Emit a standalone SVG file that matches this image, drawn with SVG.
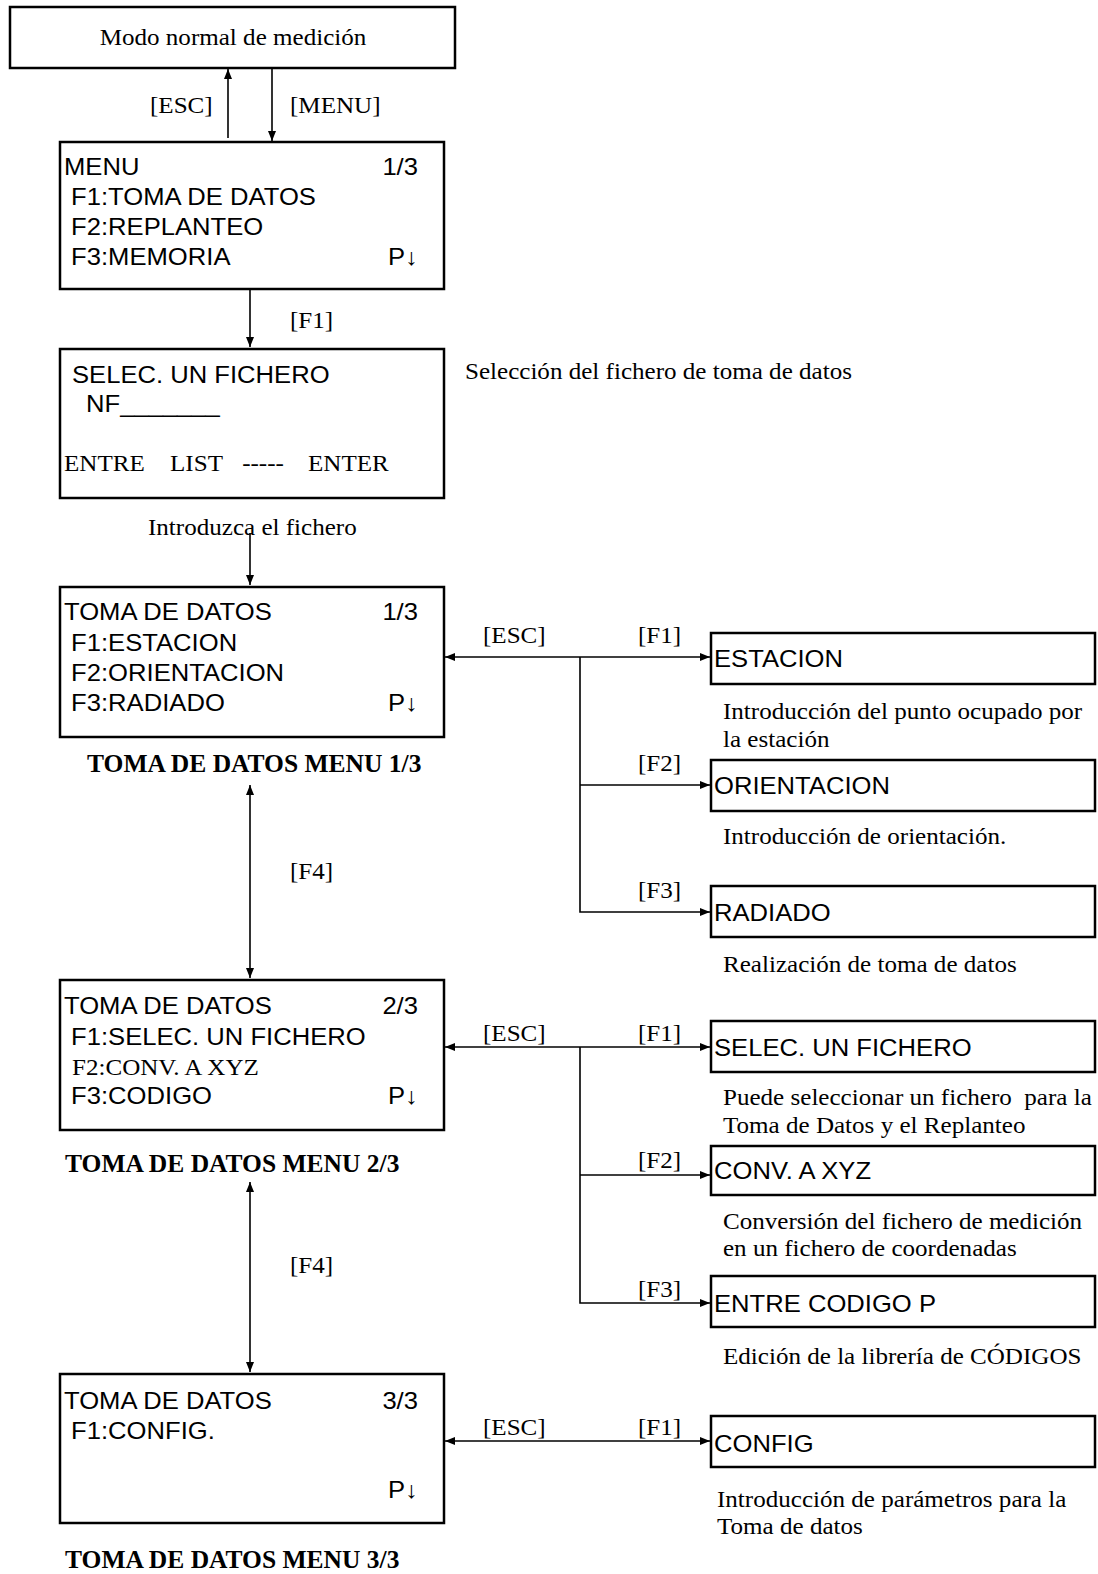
<svg xmlns="http://www.w3.org/2000/svg" width="1098" height="1574" viewBox="0 0 1098 1574">
<style>
.box{fill:none;stroke:#000;stroke-width:2.5}
.ln{fill:none;stroke:#000;stroke-width:1.6}
text{transform-box:fill-box;transform-origin:0 0;fill:#000}
.sans{font-family:"Liberation Sans",Arial,sans-serif;font-size:23.5px;transform:scaleX(1.09)}
.serif{font-family:"Liberation Serif","Times New Roman",serif;font-size:24px;transform:scaleX(1.045)}
.bold{font-family:"Liberation Serif","Times New Roman",serif;font-size:25.5px;font-weight:bold}
.end{text-anchor:end;transform-origin:100% 0}
.mid{text-anchor:middle;transform-origin:50% 0}
</style>
<defs>
<marker id="ah" viewBox="0 0 10 8" refX="10" refY="4" markerWidth="10" markerHeight="8" markerUnits="userSpaceOnUse" orient="auto-start-reverse">
<path d="M0,0 L10,4 L0,8 z" fill="#000"/>
</marker>
</defs>
<rect width="1098" height="1574" fill="#fff"/>

<g id="connectors">
<line class="ln" x1="228" y1="138" x2="228" y2="69" marker-end="url(#ah)"/>
<line class="ln" x1="272" y1="68" x2="272" y2="141" marker-end="url(#ah)"/>
<line class="ln" x1="250" y1="289" x2="250" y2="347" marker-end="url(#ah)"/>
<line class="ln" x1="250" y1="533" x2="250" y2="585" marker-end="url(#ah)"/>
<line class="ln" x1="250" y1="785" x2="250" y2="978" marker-start="url(#ah)" marker-end="url(#ah)"/>
<line class="ln" x1="250" y1="1182" x2="250" y2="1372" marker-start="url(#ah)" marker-end="url(#ah)"/>
<line class="ln" x1="580" y1="657" x2="445" y2="657" marker-end="url(#ah)"/>
<line class="ln" x1="580" y1="657" x2="710" y2="657" marker-end="url(#ah)"/>
<polyline class="ln" points="580,657 580,912 710,912" marker-end="url(#ah)"/>
<line class="ln" x1="580" y1="785" x2="710" y2="785" marker-end="url(#ah)"/>
<line class="ln" x1="580" y1="1047" x2="445" y2="1047" marker-end="url(#ah)"/>
<line class="ln" x1="580" y1="1047" x2="710" y2="1047" marker-end="url(#ah)"/>
<polyline class="ln" points="580,1047 580,1303 710,1303" marker-end="url(#ah)"/>
<line class="ln" x1="580" y1="1175" x2="710" y2="1175" marker-end="url(#ah)"/>
<line class="ln" x1="445" y1="1441" x2="710" y2="1441" marker-start="url(#ah)" marker-end="url(#ah)"/>
</g>

<g id="labels">
<text class="serif" x="150" y="113">[ESC]</text>
<text class="serif" x="290" y="113">[MENU]</text>
<text class="serif" x="290" y="328">[F1]</text>
<text class="serif" x="148" y="535">Introduzca el fichero</text>
<text class="serif" x="465" y="379">Selección del fichero de toma de datos</text>
<text class="serif" x="290" y="879">[F4]</text>
<text class="serif" x="290" y="1273">[F4]</text>
<text class="serif" x="483" y="643">[ESC]</text>
<text class="serif" x="638" y="643">[F1]</text>
<text class="serif" x="638" y="771">[F2]</text>
<text class="serif" x="638" y="898">[F3]</text>
<text class="serif" x="483" y="1041">[ESC]</text>
<text class="serif" x="638" y="1041">[F1]</text>
<text class="serif" x="638" y="1168">[F2]</text>
<text class="serif" x="638" y="1297">[F3]</text>
<text class="serif" x="483" y="1435">[ESC]</text>
<text class="serif" x="638" y="1435">[F1]</text>
<text class="bold" x="87" y="772">TOMA DE DATOS MENU 1/3</text>
<text class="bold" x="65" y="1172">TOMA DE DATOS MENU 2/3</text>
<text class="bold" x="65" y="1568">TOMA DE DATOS MENU 3/3</text>
<text class="serif" x="723" y="719">Introducción del punto ocupado por</text>
<text class="serif" x="723" y="747">la estación</text>
<text class="serif" x="723" y="844">Introducción de orientación.</text>
<text class="serif" x="723" y="972">Realización de toma de datos</text>
<text class="serif" x="723" y="1105" xml:space="preserve">Puede seleccionar un fichero  para la</text>
<text class="serif" x="723" y="1133">Toma de Datos y el Replanteo</text>
<text class="serif" x="723" y="1229">Conversión del fichero de medición</text>
<text class="serif" x="723" y="1256">en un fichero de coordenadas</text>
<text class="serif" x="723" y="1364">Edición de la librería de CÓDIGOS</text>
<text class="serif" x="717" y="1507">Introducción de parámetros para la</text>
<text class="serif" x="717" y="1534">Toma de datos</text>
</g>

<g id="node-modo">
<rect class="box" x="10" y="7" width="445" height="61"/>
<text class="serif mid" x="233" y="45">Modo normal de medición</text>
</g>

<g id="node-menu">
<rect class="box" x="60" y="142" width="384" height="147"/>
<text class="sans" x="64" y="175">MENU</text>
<text class="sans end" x="418" y="175">1/3</text>
<text class="sans" x="64" y="205" xml:space="preserve"> F1:TOMA DE DATOS</text>
<text class="sans" x="64" y="235" xml:space="preserve"> F2:REPLANTEO</text>
<text class="sans" x="64" y="265" xml:space="preserve"> F3:MEMORIA</text>
<text class="sans end" x="418" y="265">P↓</text>
</g>

<g id="node-selec">
<rect class="box" x="60" y="349" width="384" height="149"/>
<text class="sans" x="72" y="383">SELEC. UN FICHERO</text>
<text class="sans" x="86" y="412">NF_______</text>
<text class="serif" x="64" y="471">ENTRE<tspan x="165.5">LIST</tspan><tspan x="234.5">-----</tspan><tspan x="297.5">ENTER</tspan></text>
</g>

<g id="node-toma1">
<rect class="box" x="60" y="587" width="384" height="150"/>
<text class="sans" x="64" y="620">TOMA DE DATOS</text>
<text class="sans end" x="418" y="620">1/3</text>
<text class="sans" x="64" y="651" xml:space="preserve"> F1:ESTACION</text>
<text class="sans" x="64" y="681" xml:space="preserve"> F2:ORIENTACION</text>
<text class="sans" x="64" y="711" xml:space="preserve"> F3:RADIADO</text>
<text class="sans end" x="418" y="711">P↓</text>
</g>

<g id="node-toma2">
<rect class="box" x="60" y="980" width="384" height="150"/>
<text class="sans" x="64" y="1014">TOMA DE DATOS</text>
<text class="sans end" x="418" y="1014">2/3</text>
<text class="sans" x="64" y="1045" xml:space="preserve"> F1:SELEC. UN FICHERO</text>
<text class="serif" x="72" y="1075">F2:CONV. A XYZ</text>
<text class="sans" x="64" y="1104" xml:space="preserve"> F3:CODIGO</text>
<text class="sans end" x="418" y="1104">P↓</text>
</g>

<g id="node-toma3">
<rect class="box" x="60" y="1374" width="384" height="149"/>
<text class="sans" x="64" y="1409">TOMA DE DATOS</text>
<text class="sans end" x="418" y="1409">3/3</text>
<text class="sans" x="64" y="1439" xml:space="preserve"> F1:CONFIG.</text>
<text class="sans end" x="418" y="1498">P↓</text>
</g>

<g id="node-estacion">
<rect class="box" x="711" y="633" width="384" height="51"/>
<text class="sans" x="714" y="667">ESTACION</text>
</g>
<g id="node-orientacion">
<rect class="box" x="711" y="760" width="384" height="51"/>
<text class="sans" x="714" y="794">ORIENTACION</text>
</g>
<g id="node-radiado">
<rect class="box" x="711" y="886" width="384" height="51"/>
<text class="sans" x="714" y="921">RADIADO</text>
</g>
<g id="node-selec-fichero">
<rect class="box" x="711" y="1021" width="384" height="51"/>
<text class="sans" x="714" y="1056">SELEC. UN FICHERO</text>
</g>
<g id="node-conv">
<rect class="box" x="711" y="1146" width="384" height="49"/>
<text class="sans" x="714" y="1179">CONV. A XYZ</text>
</g>
<g id="node-entre-codigo">
<rect class="box" x="711" y="1276" width="384" height="51"/>
<text class="sans" x="714" y="1312">ENTRE CODIGO P</text>
</g>
<g id="node-config">
<rect class="box" x="711" y="1416" width="384" height="51"/>
<text class="sans" x="714" y="1452">CONFIG</text>
</g>
</svg>
